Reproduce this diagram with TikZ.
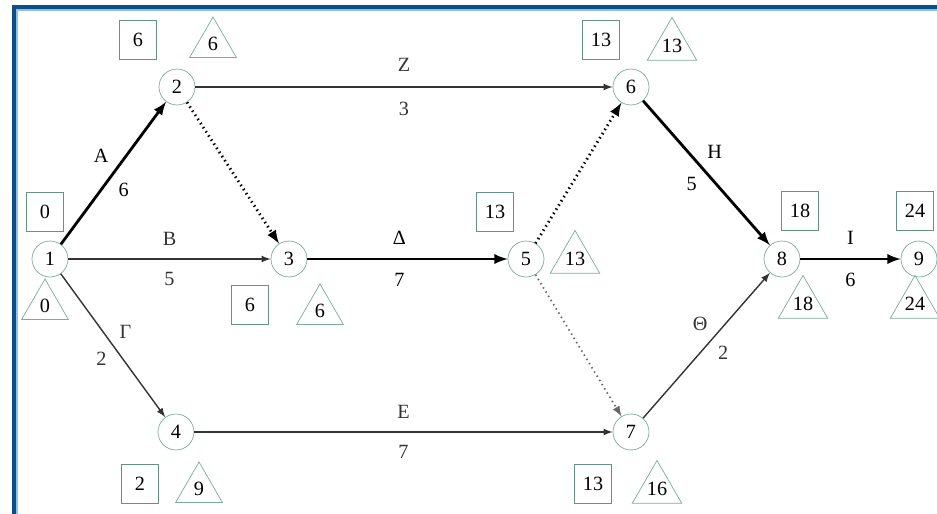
\documentclass[tikz,border=0pt]{standalone}
\usepackage{fontspec}
\setmainfont{Liberation Serif}
\usepackage{xcolor}
\usetikzlibrary{shapes,arrows}

\definecolor{frameblue}{RGB}{12,78,135}
\definecolor{framelight}{RGB}{150,190,225}
\definecolor{eventline}{RGB}{120,172,158}

\begin{document}
\begin{tikzpicture}[x=0.02cm, y=-0.02cm,
    font=\fontsize{11.5}{13}\selectfont,
    event/.style={circle, draw=eventline, thin, minimum size=0.72cm, inner sep=0pt},
    early/.style={rectangle, draw=eventline!85!black, thin, minimum width=0.74cm, minimum height=0.78cm, inner sep=0pt},
    late/.style={regular polygon, regular polygon sides=3, draw=eventline, thin, minimum size=1.08cm, inner sep=0pt},
    line/.style={draw, ->, >=latex, line width=0.8pt, black!80},
    critical/.style={line, line width=1.6pt, black},
    dummy/.style={line, dotted, line width=1.6pt, black},
    slack/.style={line, dotted, line width=1pt, black!60}]

    \useasboundingbox (0,0) rectangle (937,514);

    % Frame
    \draw [framelight, line width=1.2pt] (17,514) -- (17,10) -- (937,10);
    \draw [frameblue, line width=2.3pt] (14,514) -- (14,7) -- (937,7);

    % Events
    \node [event] (n1) at (50,259) {1};
    \node [event] (n2) at (177,87) {2};
    \node [event] (n3) at (289,259) {3};
    \node [event] (n4) at (176,432) {4};
    \node [event] (n5) at (526,259) {5};
    \node [event] (n6) at (631,87) {6};
    \node [event] (n7) at (631,432) {7};
    \node [event] (n8) at (782,259) {8};
    \node [event] (n9) at (919,259) {9};

    % Earliest times
    \node [early] (e1) at (45,212) {0};
    \node [early] (e2) at (138,40) {6};
    \node [early] (e3) at (250,305) {6};
    \node [early] (e4) at (140,484) {2};
    \node [early] (e5) at (495,212) {13};
    \node [early] (e6) at (601,40) {13};
    \node [early] (e7) at (593,484) {13};
    \node [early] (e8) at (800,211) {18};
    \node [early] (e9) at (915,211) {24};

    % Latest times
    \node [late] (l1) at (45,306) {0};
    \node [late] (l2) at (213,44) {6};
    \node [late] (l3) at (320,311) {6};
    \node [late] (l4) at (199,489) {9};
    \node [late] (l5) at (575,259) {13};
    \node [late] (l6) at (672,46) {13};
    \node [late] (l7) at (657,489) {16};
    \node [late] (l8) at (803,304) {18};
    \node [late] (l9) at (915,304) {24};

    % Activities
    \draw [critical] (n1) -- node [pos=.52, above left] {A} node [pos=.48, below right] {6} (n2);
    \draw [line] (n1) -- node [above=4pt] {B} node [below=4pt] {5} (n3);
    \draw [line] (n1) -- node [above right] {Γ} node [below left] {2} (n4);
    \draw [line] (n2) -- node [above=5pt] {Z} node [below=5pt] {3} (n6);
    \draw [critical] (n3) -- node [pos=.46, above=4pt] {Δ} node [pos=.46, below=4pt] {7} (n5);
    \draw [line] (n4) -- node [above=4pt] {E} node [below=4pt] {7} (n7);
    \draw [critical] (n6) -- node [pos=.45, above right] {H} node [pos=.48, below left] {5} (n8);
    \draw [line] (n7) -- node [pos=.56, above left] {Θ} node [pos=.54, below right] {2} (n8);
    \draw [critical] (n8) -- node [above=4pt] {I} node [below=4pt] {6} (n9);

    % Dummy activities
    \draw [dummy] (n2) -- (n3);
    \draw [dummy] (n5) -- (n6);
    \draw [slack] (n5) -- (n7);

\end{tikzpicture}
\end{document}
